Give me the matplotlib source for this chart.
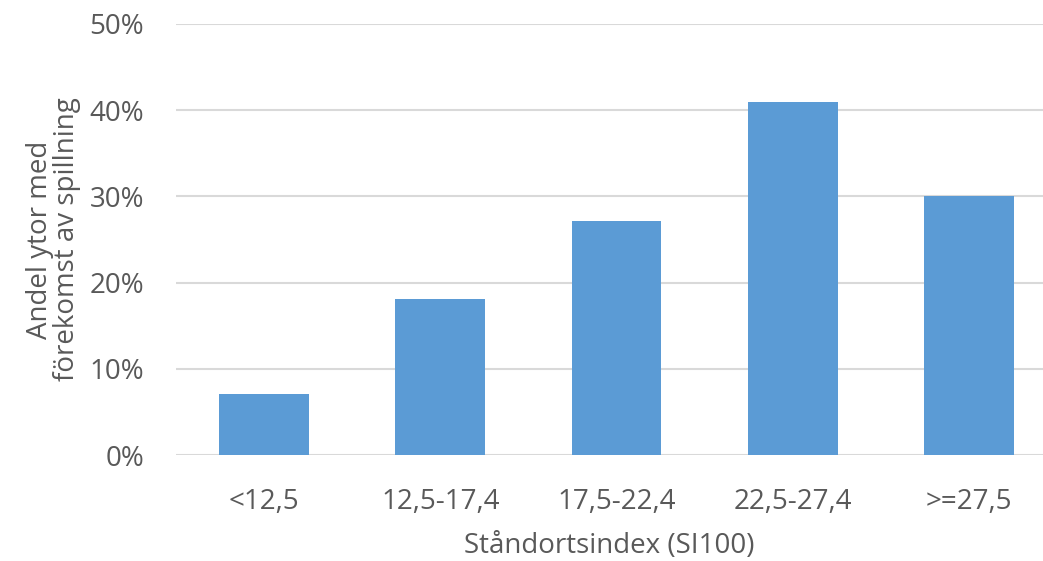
import matplotlib
matplotlib.use("Agg")
import matplotlib.pyplot as plt
from matplotlib.ticker import FuncFormatter

categories = ["<12,5", "12,5-17,4", "17,5-22,4", "22,5-27,4", ">=27,5"]
values = [7.1, 18.1, 27.2, 41.0, 30.0]
yticks = [0, 10, 20, 30, 40, 50]

plt.rcParams['font.family'] = ['Open Sans', 'DejaVu Sans']
txt = '#595959'

fig = plt.figure(figsize=(10.43, 5.61), dpi=100)
left = 176 / 1043
right = 1043 / 1043
bottom = (561 - 455) / 561
top = (561 - 24) / 561
ax = fig.add_axes([left, bottom, right - left, top - bottom])

x = list(range(len(categories)))
ax.bar(x, values, width=0.51, color='#5B9BD5', zorder=3)

ax.set_ylim(0, 50)
ax.set_xlim(-0.5, 4.42)
ax.set_yticks(yticks)
ax.yaxis.set_major_formatter(FuncFormatter(lambda v, p: f"{int(v)}%"))
ax.set_xticks(x)
ax.set_xticklabels(categories)
ax.grid(axis='y', color='#d9d9d9', linewidth=1.5, zorder=0)
for s in ax.spines.values():
    s.set_visible(False)
ax.tick_params(axis='both', length=0, labelsize=20, colors=txt)
ax.tick_params(axis='y', pad=23)
ax.tick_params(axis='x', pad=24)

ax.set_xlabel("Ståndortsindex (SI100)", fontsize=20, color=txt, labelpad=11)
ax.set_ylabel("Andel ytor med\nförekomst av spillning", fontsize=20, color=txt,
              labelpad=6, linespacing=0.95)

fig.savefig("out.png", dpi=100)
